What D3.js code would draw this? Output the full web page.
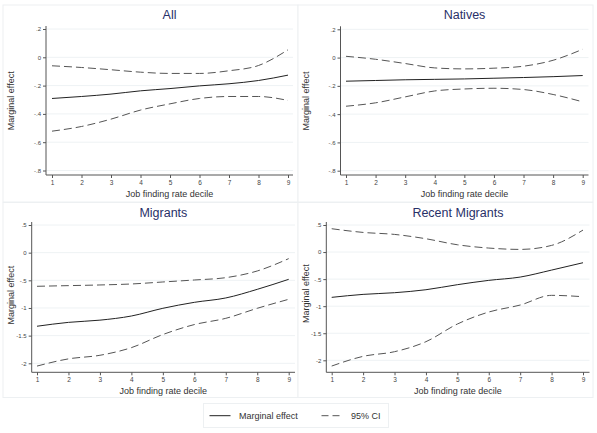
<!DOCTYPE html>
<html>
<head>
<meta charset="utf-8">
<script src="https://cdn.jsdelivr.net/npm/d3@7"></script>
<style>
  body { margin: 0; background: #fff; }
  svg { display: block; font-family: "Liberation Sans", Arial, sans-serif; }
</style>
</head>
<body>
<script>
// deciles on the x axis
var deciles = [1, 2, 3, 4, 5, 6, 7, 8, 9];

// All
var allEffect = [-0.291, -0.277, -0.260, -0.237, -0.221, -0.202, -0.187, -0.164, -0.126];
var allUpper  = [-0.060, -0.072, -0.088, -0.105, -0.114, -0.114, -0.095, -0.058, 0.053];
var allLower  = [-0.522, -0.489, -0.437, -0.373, -0.329, -0.291, -0.277, -0.277, -0.305];

// Natives
var natEffect = [-0.167, -0.162, -0.157, -0.154, -0.151, -0.146, -0.141, -0.135, -0.127];
var natUpper  = [0.009, -0.012, -0.042, -0.073, -0.080, -0.075, -0.061, -0.019, 0.059];
var natLower  = [-0.344, -0.320, -0.278, -0.236, -0.222, -0.217, -0.226, -0.261, -0.313];

// Migrants
var migEffect = [-1.33, -1.26, -1.22, -1.145, -1.006, -0.898, -0.819, -0.663, -0.482];
var migUpper  = [-0.608, -0.596, -0.584, -0.566, -0.530, -0.494, -0.452, -0.331, -0.108];
var migLower  = [-2.05, -1.92, -1.855, -1.717, -1.48, -1.30, -1.187, -1.006, -0.843];

// Recent Migrants
var recEffect = [-0.837, -0.782, -0.751, -0.696, -0.603, -0.523, -0.462, -0.333, -0.197];
var recUpper  = [0.431, 0.363, 0.326, 0.246, 0.135, 0.074, 0.049, 0.123, 0.406];
var recLower  = [-2.106, -1.927, -1.841, -1.656, -1.33, -1.108, -0.979, -0.80, -0.825];

var ticksSmall = [-0.8, -0.6, -0.4, -0.2, 0, 0.2];
var ticksLarge = [-2, -1.5, -1, -0.5, 0, 0.5];

var W = 597, H = 433;
var svg = d3.select("body").append("svg").attr("width", W).attr("height", H);

// stata style number labels: .2, -.4, 0, -1.5
function stataFmt(v) {
  if (v === 0) return "0";
  var s = String(+v.toFixed(2));
  return s.replace(/^(-?)0\./, "$1.");
}

var panels = [
  {title: "All", box: [3, 5, 295, 197], axisX: 46, xr: [52, 288], xEnd: 293,
   yr: [170.5, 29], axisY: 175, ticks: ticksSmall, ydom: [-0.8, 0.2],
   eff: allEffect, up: allUpper, lo: allLower},
  {title: "Natives", box: [298, 5, 295, 197], axisX: 340.5, xr: [346, 582.7], xEnd: 588.5,
   yr: [170.7, 29.3], axisY: 175, ticks: ticksSmall, ydom: [-0.8, 0.2],
   eff: natEffect, up: natUpper, lo: natLower},
  {title: "Migrants", box: [3, 202.5, 295, 195], axisX: 31.7, xr: [37, 288.7], xEnd: 295,
   yr: [363.3, 225], axisY: 372.3, ticks: ticksLarge, ydom: [-2, 0.5],
   eff: migEffect, up: migUpper, lo: migLower},
  {title: "Recent Migrants", box: [298, 202.5, 295, 195], axisX: 326.3, xr: [331.7, 583], xEnd: 589.5,
   yr: [360.3, 225], axisY: 372.3, ticks: ticksLarge, ydom: [-2, 0.5],
   eff: recEffect, up: recUpper, lo: recLower}
];

panels.forEach(function(p) {
  var g = svg.append("g");

  g.append("rect")
    .attr("x", p.box[0]).attr("y", p.box[1])
    .attr("width", p.box[2]).attr("height", p.box[3])
    .attr("fill", "#fff")
    .attr("stroke", "#edf0f2")
    .attr("stroke-width", 1);

  var x = d3.scaleLinear().domain([1, 9]).range(p.xr);
  var y = d3.scaleLinear().domain(p.ydom).range(p.yr);

  // faint grid
  g.selectAll(".grid")
    .data(p.ticks)
    .enter().append("line")
    .attr("x1", p.axisX).attr("x2", p.xEnd)
    .attr("y1", function(d) { return y(d); })
    .attr("y2", function(d) { return y(d); })
    .attr("stroke", "#eef2f4")
    .attr("stroke-width", 1);

  // y axis
  var ya = g.append("g")
    .attr("transform", "translate(" + p.axisX + ",0)")
    .call(d3.axisLeft(y).tickValues(p.ticks).tickFormat(stataFmt).tickSize(3).tickPadding(2));
  ya.select(".domain").attr("d", "M0," + p.axisY + "V" + (y(p.ydom[1]) - 3)).attr("stroke", "#555");
  ya.selectAll(".tick line").attr("stroke", "#555");
  ya.selectAll("text").attr("font-size", "6px").attr("fill", "#444")
    .attr("font-family", "Liberation Sans, Arial, sans-serif");

  // x axis
  var xa = g.append("g")
    .attr("transform", "translate(0," + p.axisY + ")")
    .call(d3.axisBottom(x).tickValues(deciles).tickFormat(d3.format("d")).tickSize(3).tickPadding(2));
  xa.select(".domain").attr("d", "M" + p.axisX + ",0H" + p.xEnd).attr("stroke", "#555");
  xa.selectAll(".tick line").attr("stroke", "#555");
  xa.selectAll("text").attr("font-size", "6.5px").attr("fill", "#444")
    .attr("font-family", "Liberation Sans, Arial, sans-serif");

  var line = d3.line()
    .x(function(d, i) { return x(deciles[i]); })
    .y(function(d) { return y(d); })
    .curve(d3.curveMonotoneX);

  g.append("path").datum(p.up).attr("d", line)
    .attr("fill", "none").attr("stroke", "#555").attr("stroke-width", 1)
    .attr("stroke-dasharray", "8,4");
  g.append("path").datum(p.lo).attr("d", line)
    .attr("fill", "none").attr("stroke", "#555").attr("stroke-width", 1)
    .attr("stroke-dasharray", "8,4");
  g.append("path").datum(p.eff).attr("d", line)
    .attr("fill", "none").attr("stroke", "#222").attr("stroke-width", 1);

  var cx = (p.axisX + p.xEnd) / 2;
  g.append("text")
    .attr("x", cx).attr("y", p.box[1] + 14)
    .attr("text-anchor", "middle")
    .attr("font-size", "12.5px")
    .attr("fill", "#283068")
    .text(p.title);

  g.append("text")
    .attr("x", cx).attr("y", p.axisY + 21.5)
    .attr("text-anchor", "middle")
    .attr("font-size", "9px")
    .attr("fill", "#333")
    .text("Job finding rate decile");

  var ymid = (p.yr[0] + p.yr[1]) / 2 + 1;
  g.append("text")
    .attr("transform", "translate(" + (p.box[0] + 10.5) + "," + ymid + ") rotate(-90)")
    .attr("text-anchor", "middle")
    .attr("font-size", "9px")
    .attr("fill", "#333")
    .text("Marginal effect");
});

// legend
var legend = svg.append("g");
legend.append("rect")
  .attr("x", 203.5).attr("y", 403.5).attr("width", 185).attr("height", 24)
  .attr("fill", "#fff").attr("stroke", "#edf0f2");

var legendItems = [
  {label: "Marginal effect", x: 209.5, dash: null, color: "#222"},
  {label: "95% CI", x: 321.5, dash: "7,4", color: "#555"}
];
legendItems.forEach(function(d) {
  legend.append("line")
    .attr("x1", d.x).attr("x2", d.x + 21)
    .attr("y1", 415.7).attr("y2", 415.7)
    .attr("stroke", d.color).attr("stroke-width", 1)
    .attr("stroke-dasharray", d.dash);
  legend.append("text")
    .attr("x", d.x + 29.5).attr("y", 418.8)
    .attr("font-size", "9px").attr("fill", "#333")
    .text(d.label);
});
</script>
</body>
</html>
